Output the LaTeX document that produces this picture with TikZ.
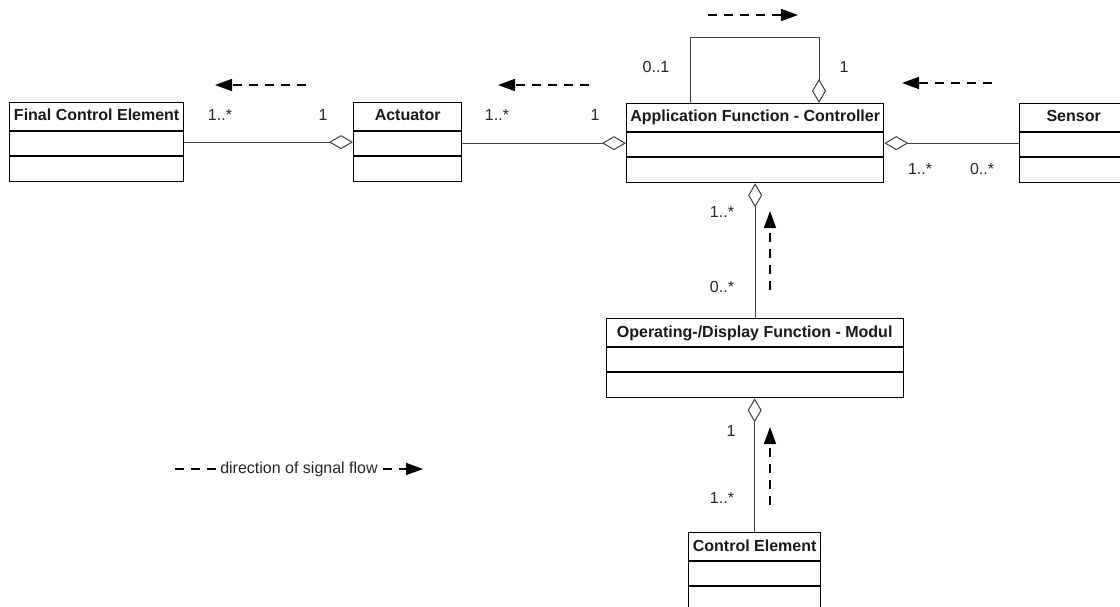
\documentclass[tikz,border=0pt]{standalone}
\usepackage{fontspec}
\setmainfont{Liberation Sans}
\usetikzlibrary{arrows.meta,calc}

\tikzset{
  classbox/.style={draw, line width=1.3pt, minimum height=79pt, inner sep=0pt, anchor=north west},
  classtitle/.style={font=\fontsize{16}{19}\selectfont\bfseries, inner sep=0pt, text=black!90, anchor=base},
  mult/.style={font=\fontsize{16}{19}\selectfont, inner sep=0pt, text=black!85},
  conn/.style={line width=1pt, draw=black!75},
  agg/.style={conn, {Diamond[length=24pt,width=14pt,fill=white]}-},
  flow/.style={line width=1.6pt, dash pattern=on 9pt off 7pt, -{Triangle[length=17pt,width=12pt]}},
}

% UML class with a title compartment and two empty compartments
% #1 name, #2 left, #3 top, #4 width, #5 title
\newcommand\umlclass[5]{%
  \node[classbox, minimum width=#4pt] (#1) at (#2,#3) {};
  \node[classtitle] (#1-t) at ($(#1.north)+(0,19)$) {#5};
  \draw[line width=1.3pt] ($(#1.north west)+(0,29)$) -- ($(#1.north east)+(0,29)$);
  \draw[line width=1.3pt] ($(#1.north west)+(0,54)$) -- ($(#1.north east)+(0,54)$);
}

\begin{document}
\begin{tikzpicture}[x=1pt, y=-1pt]
  \clip (0,0) rectangle (1120,607);
  \fill[white] (0,0) rectangle (1120,607);

  % classes
  \umlclass{fce}{9}{102}{174}{Final Control Element}
  \umlclass{act}{353}{102}{108}{Actuator}
  \umlclass{app}{626}{103}{257}{Application Function - Controller}
  \umlclass{sen}{1019}{103}{108}{Sensor}
  \umlclass{op}{605.5}{318}{297}{Operating-/Display Function - Modul}
  \umlclass{ctl}{688}{532}{132}{Control Element}

  % aggregations
  \draw[agg] (act.west) -- (fce.east);
  \draw[agg] (app.west) -- (app.west -| act.east);
  \draw[agg] (app.east) -- (app.east -| sen.west);
  \draw[agg] ([xshift=193pt]app.north west) -- ++(0,-65) -| ([xshift=64pt]app.north west);
  \draw[agg] (app.south) -- (app.south |- op.north);
  \draw[agg] (op.south) -- (op.south |- ctl.north);

  % multiplicities
  \node[mult] (m1) at (220,115) {1..*};
  \node[mult] (m2) at (323,115) {1};
  \node[mult] (m3) at (497,115) {1..*};
  \node[mult] (m4) at (595,115) {1};
  \node[mult] (m5) at (656,67) {0..1};
  \node[mult] (m6) at (844,67) {1};
  \node[mult] (m7) at (920,169) {1..*};
  \node[mult] (m8) at (982,169) {0..*};
  \node[mult] (m9) at (722,212) {1..*};
  \node[mult] (m10) at (722,287) {0..*};
  \node[mult] (m11) at (731,431) {1};
  \node[mult] (m12) at (722,498) {1..*};

  % signal flow directions
  \coordinate (f1a) at (708,15);  \coordinate (f1b) at (798,15);
  \coordinate (f2a) at (306,85);  \coordinate (f2b) at (215,85);
  \coordinate (f3a) at (589,85);  \coordinate (f3b) at (498,85);
  \coordinate (f4a) at (992,83);  \coordinate (f4b) at (902,83);
  \coordinate (f5a) at (770,290); \coordinate (f5b) at (770,211);
  \coordinate (f6a) at (770,505); \coordinate (f6b) at (770,427);
  \draw[flow] (f1a) -- (f1b);
  \draw[flow] (f2a) -- (f2b);
  \draw[flow] (f3a) -- (f3b);
  \draw[flow] (f4a) -- (f4b);
  \draw[flow] (f5a) -- (f5b);
  \draw[flow] (f6a) -- (f6b);

  % legend
  \coordinate (lg1) at (175,469);
  \coordinate (lg2) at (423,469);
  \draw[flow] (lg1) -- node[mult, fill=white, inner xsep=1pt, inner ysep=2pt] (lgt) {direction of signal flow} (lg2);
\end{tikzpicture}
\end{document}
